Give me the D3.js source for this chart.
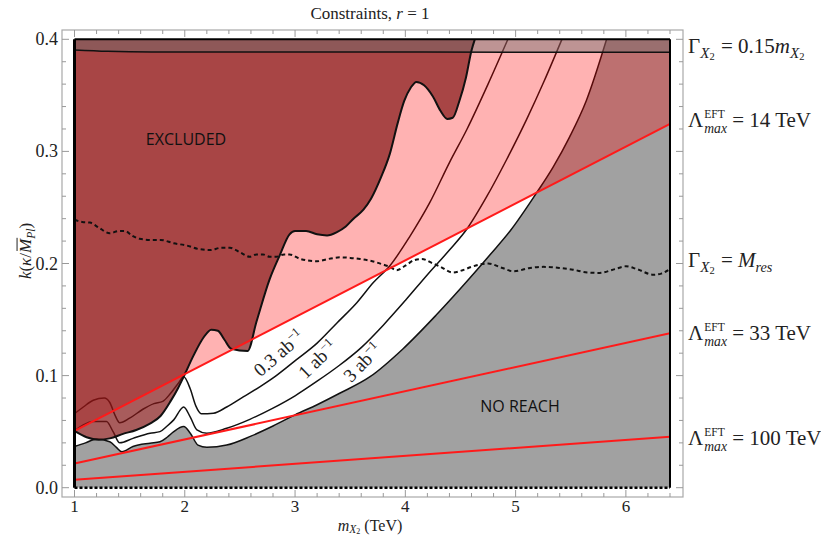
<!DOCTYPE html>
<html>
<head>
<meta charset="utf-8">
<script src="https://cdn.jsdelivr.net/npm/d3@7"></script>
<style>
  body { margin: 0; background: #fff; }
  text { font-family: "Liberation Serif", "DejaVu Serif", serif; fill: #222; white-space: pre; }
</style>
</head>
<body>
<svg id="chart" width="821" height="537"></svg>
<script>
// ---- data (m in TeV, k dimensionless) ----
const massDomain = [1, 6.4];
const kDomain = [0, 0.4];
const xTickValues = [1, 2, 3, 4, 5, 6];
const yTickValues = [0, 0.1, 0.2, 0.3, 0.4];

// boundary of the excluded region
const excluded = [[1.00,0.0507],[1.11,0.045],[1.22,0.0428],[1.32,0.044],[1.44,0.048],[1.56,0.0515],
  [1.68,0.057],[1.78,0.064],[1.87,0.077],[1.94,0.089],[1.99,0.099],[2.08,0.118],[2.17,0.134],
  [2.24,0.141],[2.30,0.140],[2.36,0.132],[2.42,0.124],[2.57,0.122],[2.65,0.148],[2.77,0.186],
  [2.86,0.207],[2.95,0.226],[3.00,0.229],[3.10,0.229],[3.20,0.226],[3.29,0.225],[3.38,0.228],
  [3.46,0.233],[3.53,0.240],[3.62,0.248],[3.69,0.258],[3.78,0.277],[3.86,0.298],[3.93,0.325],
  [3.99,0.345],[4.05,0.357],[4.10,0.362],[4.17,0.359],[4.25,0.349],[4.32,0.336],[4.38,0.329],
  [4.43,0.330],[4.49,0.345],[4.55,0.366],[4.60,0.390],[4.63,0.400]];

// reach curves for three luminosities
const reach03 = [[1.00,0.066],[1.08,0.072],[1.17,0.078],[1.27,0.080],[1.32,0.076],[1.37,0.064],
  [1.41,0.058],[1.50,0.062],[1.62,0.070],[1.72,0.075],[1.80,0.077],[1.87,0.084],[1.94,0.093],
  [1.99,0.099],[2.05,0.088],[2.10,0.073],[2.15,0.066],[2.26,0.0665],[2.38,0.072],[2.53,0.081],
  [2.68,0.090],[2.83,0.100],[3.01,0.114],[3.20,0.129],[3.38,0.147],[3.56,0.165],[3.71,0.183],
  [3.86,0.198],[4.04,0.224],[4.22,0.254],[4.40,0.290],[4.56,0.320],[4.75,0.360],[4.93,0.400]];
const reach1 = [[1.00,0.0507],[1.08,0.056],[1.17,0.059],[1.29,0.059],[1.35,0.050],[1.41,0.040],
  [1.53,0.044],[1.685,0.0486],[1.775,0.050],[1.84,0.055],[1.90,0.0605],[1.99,0.072],[2.05,0.063],
  [2.11,0.0516],[2.20,0.0486],[2.38,0.053],[2.59,0.061],[2.80,0.071],[3.00,0.082],[3.20,0.095],
  [3.40,0.109],[3.60,0.125],[3.80,0.145],[4.00,0.167],[4.20,0.190],[4.40,0.212],[4.56,0.231],
  [4.74,0.260],[4.92,0.293],[5.10,0.3286],[5.26,0.363],[5.42,0.400]];
const reach3 = [[1.00,0.0367],[1.10,0.040],[1.20,0.0435],[1.32,0.041],[1.38,0.036],[1.43,0.032],
  [1.53,0.0367],[1.685,0.0397],[1.775,0.041],[1.84,0.045],[1.90,0.050],[1.99,0.0545],[2.05,0.0486],
  [2.12,0.038],[2.20,0.036],[2.38,0.038],[2.60,0.046],[2.80,0.055],[3.00,0.065],[3.20,0.074],
  [3.40,0.084],[3.68,0.099],[3.98,0.124],[4.28,0.154],[4.585,0.187],[4.77,0.208],[4.95,0.229],
  [5.19,0.263],[5.34,0.286],[5.49,0.313],[5.64,0.345],[5.825,0.400]];

// Gamma = M_res (dashed)
const widthRes = [[1.00,0.239],[1.07,0.237],[1.14,0.2365],[1.22,0.232],[1.32,0.227],[1.40,0.229],
  [1.46,0.229],[1.52,0.225],[1.59,0.222],[1.70,0.221],[1.78,0.221],[1.90,0.218],[2.02,0.216],
  [2.12,0.213],[2.23,0.212],[2.33,0.214],[2.41,0.214],[2.50,0.210],[2.59,0.206],[2.65,0.208],
  [2.71,0.208],[2.77,0.206],[2.83,0.206],[2.90,0.208],[2.95,0.208],[3.05,0.204],[3.20,0.202],
  [3.30,0.204],[3.41,0.2055],[3.50,0.205],[3.59,0.204],[3.70,0.202],[3.80,0.199],[3.86,0.197],
  [3.92,0.194],[4.00,0.198],[4.08,0.203],[4.15,0.204],[4.25,0.200],[4.31,0.1975],[4.43,0.192],
  [4.52,0.194],[4.60,0.197],[4.75,0.200],[4.88,0.196],[4.98,0.193],[5.13,0.196],[5.25,0.197],
  [5.40,0.196],[5.52,0.1945],[5.65,0.192],[5.76,0.1916],[5.90,0.195],[6.00,0.1975],[6.10,0.195],
  [6.25,0.190],[6.32,0.191],[6.40,0.195]];

// Gamma = 0.15 m (top band lower edge)
const widthTop = [[1.00,0.3905],[1.30,0.3893],[1.70,0.3887],[6.40,0.3885]];

// Lambda_max^EFT lines, k at m = 1 and m = 6.4
const eftNames = ["14", "33", "100"];
const eftK1 = [0.0507, 0.0215, 0.0071];
const eftK64 = [0.3245, 0.1377, 0.0454];

// ---- chart ----
let chart = d3.select("#chart");

let x = d3.scaleLinear().domain(massDomain).range([74.5, 670]);
let y = d3.scaleLinear().domain(kDomain).range([487.7, 39.3]);

// frame
chart.append("rect")
  .attr("x", 62).attr("y", 30).attr("width", 621).attr("height", 467)
  .attr("fill", "#fff").attr("stroke", "#a8a8a8").attr("stroke-width", 1.2);

chart.append("clipPath").attr("id", "plotclip")
  .append("rect").attr("x", x(1)).attr("y", y(0.4)).attr("width", x(6.4) - x(1)).attr("height", y(0) - y(0.4));
let plot = chart.append("g").attr("clip-path", "url(#plotclip)");

// grey no-reach everywhere, then white above the 3 ab^-1 curve
plot.append("rect")
  .attr("x", x(1)).attr("y", y(0.4)).attr("width", x(6.4) - x(1)).attr("height", y(0) - y(0.4))
  .attr("fill", "#a1a1a1");

let above = d3.area()
  .x(d => x(d[0])).y0(d => y(d[1])).y1(y(0.4))
  .curve(d3.curveMonotoneX);
plot.append("path").datum(reach3).attr("d", above).attr("fill", "#fff");

let line = d3.line().x(d => x(d[0])).y(d => y(d[1])).curve(d3.curveMonotoneX);

[reach03, reach1, reach3].forEach(function (c) {
  plot.append("path").datum(c).attr("d", line)
    .attr("fill", "none").attr("stroke", "#111").attr("stroke-width", 1.5);
});

// EFT validity overlay above 14 TeV line
let eftArea = [[massDomain[0], eftK1[0]], [massDomain[1], eftK64[0]]];
plot.append("path").datum(eftArea)
  .attr("d", d3.area().x(d => x(d[0])).y0(d => y(d[1])).y1(y(0.4)))
  .attr("fill", "rgba(255,0,0,0.3)");

// excluded
plot.append("path").datum(excluded).attr("d", above)
  .attr("fill", "rgba(131,23,23,0.7)");

// top band
plot.append("path").datum(widthTop).attr("d", above)
  .attr("fill", "rgba(110,110,110,0.45)");
plot.append("path").datum(widthTop).attr("d", line)
  .attr("fill", "none").attr("stroke", "#111").attr("stroke-width", 1.5);

// dashed width line
plot.append("path").datum(widthRes).attr("d", line)
  .attr("fill", "none").attr("stroke", "#111").attr("stroke-width", 2)
  .attr("stroke-dasharray", "4,3");

// exclusion boundary
plot.append("path").datum(excluded).attr("d", line)
  .attr("fill", "none").attr("stroke", "#111").attr("stroke-width", 2);

// EFT lines
eftNames.forEach(function (n, i) {
  plot.append("line")
    .attr("x1", x(massDomain[0])).attr("y1", y(eftK1[i]))
    .attr("x2", x(massDomain[1])).attr("y2", y(eftK64[i]))
    .attr("stroke", "#ff1a1a").attr("stroke-width", 2);
});

// black border of the region
chart.append("line").attr("x1", x(1)).attr("x2", x(6.4)).attr("y1", y(0.4)).attr("y2", y(0.4))
  .attr("stroke", "#000").attr("stroke-width", 2);
chart.append("line").attr("x1", x(1)).attr("x2", x(1)).attr("y1", y(0)).attr("y2", y(0.4))
  .attr("stroke", "#000").attr("stroke-width", 3);
chart.append("line").attr("x1", x(6.4)).attr("x2", x(6.4)).attr("y1", y(0)).attr("y2", y(0.4))
  .attr("stroke", "#000").attr("stroke-width", 2);
chart.append("line").attr("x1", x(1)).attr("x2", x(6.4)).attr("y1", y(0)).attr("y2", y(0))
  .attr("stroke", "#000").attr("stroke-width", 2.5).attr("stroke-dasharray", "3,2");

// ticks on the frame
let tickG = chart.append("g").attr("stroke", "#999").attr("stroke-width", 1);
d3.range(1, 6.41, 0.2).forEach(function (m) {
  let major = Math.abs(m - Math.round(m)) < 1e-6;
  let len = major ? 7 : 4;
  tickG.append("line").attr("x1", x(m)).attr("x2", x(m)).attr("y1", 497).attr("y2", 497 - len);
  tickG.append("line").attr("x1", x(m)).attr("x2", x(m)).attr("y1", 30).attr("y2", 30 + len);
});
d3.range(0, 0.401, 0.02).forEach(function (k) {
  let major = Math.abs(k * 10 - Math.round(k * 10)) < 1e-6;
  let len = major ? 7 : 4;
  tickG.append("line").attr("x1", 62).attr("x2", 62 + len).attr("y1", y(k)).attr("y2", y(k));
  tickG.append("line").attr("x1", 683).attr("x2", 683 - len).attr("y1", y(k)).attr("y2", y(k));
});

xTickValues.forEach(function (m) {
  chart.append("text").text(m).attr("x", x(m)).attr("y", 512)
    .attr("text-anchor", "middle").style("font-size", "17px");
});
yTickValues.forEach(function (k) {
  chart.append("text").text(k.toFixed(1)).attr("x", 58).attr("y", y(k) + 6)
    .attr("text-anchor", "end").style("font-size", "18px");
});

// little helper for math-ish labels made of pieces
function mathText(g, x0, y0, parts, base) {
  base = base || 18;
  let cx = x0;
  parts.forEach(function (p) {
    let items = p.stack ? p.stack : [p];
    let w = 0;
    items.forEach(function (s) {
      let size = s.rel ? base * s.rel : base;
      let t = g.append("text").attr("x", cx + (s.dx || 0)).attr("y", y0 + (s.dy ? s.dy * base / 18 : 0))
        .attr("xml:space", "preserve")
        .style("font-size", size + "px")
        .style("font-style", s.it ? "italic" : "normal")
        .text(s.t);
      let tw = t.node().getComputedTextLength() + (s.dx || 0);
      if (s.bar) {
        g.append("line").attr("x1", cx + 2).attr("x2", cx + tw + 1)
          .attr("y1", y0 - base * 0.82).attr("y2", y0 - base * 0.82).attr("stroke", "#222").attr("stroke-width", 1);
      }
      w = Math.max(w, tw);
    });
    cx += w;
  });
  return cx - x0;
}
function centered(cx, cy, angle, parts, base) {
  let g = chart.append("g");
  let inner = g.append("g");
  let w = mathText(inner, 0, 0, parts, base);
  inner.attr("transform", "translate(" + (-w / 2) + ",0)");
  g.attr("transform", "translate(" + cx + "," + cy + ") rotate(" + angle + ")");
}

const X2 = [{t: "X", it: true, rel: 0.72, dy: 4}, {t: "2", rel: 0.5, dy: 6}];
const lam = [{t: "Λ"}, {stack: [{t: "EFT", rel: 0.55, dy: -8, dx: 1}, {t: "max", it: true, rel: 0.65, dy: 5, dx: 1}]}];

// title and axis titles
centered(370, 19, 0, [{t: "Constraints, "}, {t: "r", it: true}, {t: " = 1"}], 17);
centered(370, 531, 0, [{t: "m", it: true}, {t: "X", it: true, rel: 0.72, dy: 2.5}, {t: "2", rel: 0.5, dy: 3.5}, {t: " (TeV)"}], 16);
centered(31, 251, -90, [{t: "k", it: true}, {t: "("}, {t: "κ", it: true}, {t: "/"},
  {t: "M", it: true, bar: true}, {t: "Pl", it: true, rel: 0.68, dy: 4}, {t: ")"}], 17);

// right hand labels
mathText(chart, 688, 53, [{t: "Γ"}].concat(X2, [{t: " = 0.15", dx: 1}, {t: "m", it: true}], X2), 21);
mathText(chart, 688, 127, lam.concat([{t: " = 14 TeV"}]), 21);
mathText(chart, 688, 267, [{t: "Γ"}].concat(X2, [{t: " = ", dx: 1}, {t: "M", it: true},
  {t: "res", it: true, rel: 0.68, dy: 4}]), 21);
mathText(chart, 688, 340, lam.concat([{t: " = 33 TeV"}]), 21);
mathText(chart, 688, 445, lam.concat([{t: " = 100 TeV"}]), 21);

// luminosity labels along curves
centered(283, 358, -41, [{t: "0.3 ab"}, {t: "−1", rel: 0.65, dy: -7}], 19);
centered(322, 364, -44, [{t: "1 ab"}, {t: "−1", rel: 0.65, dy: -7}], 19);
centered(367, 367, -46, [{t: "3 ab"}, {t: "−1", rel: 0.65, dy: -7}], 19);

// region names
chart.append("text").text("EXCLUDED").attr("x", 186).attr("y", 145)
  .attr("text-anchor", "middle").style("font-family", "Open Sans").style("font-size", "16px").style("fill", "#111");
chart.append("text").text("NO REACH").attr("x", 520).attr("y", 412)
  .attr("text-anchor", "middle").style("font-family", "Open Sans").style("font-size", "16px").style("fill", "#111");
</script>
</body>
</html>
